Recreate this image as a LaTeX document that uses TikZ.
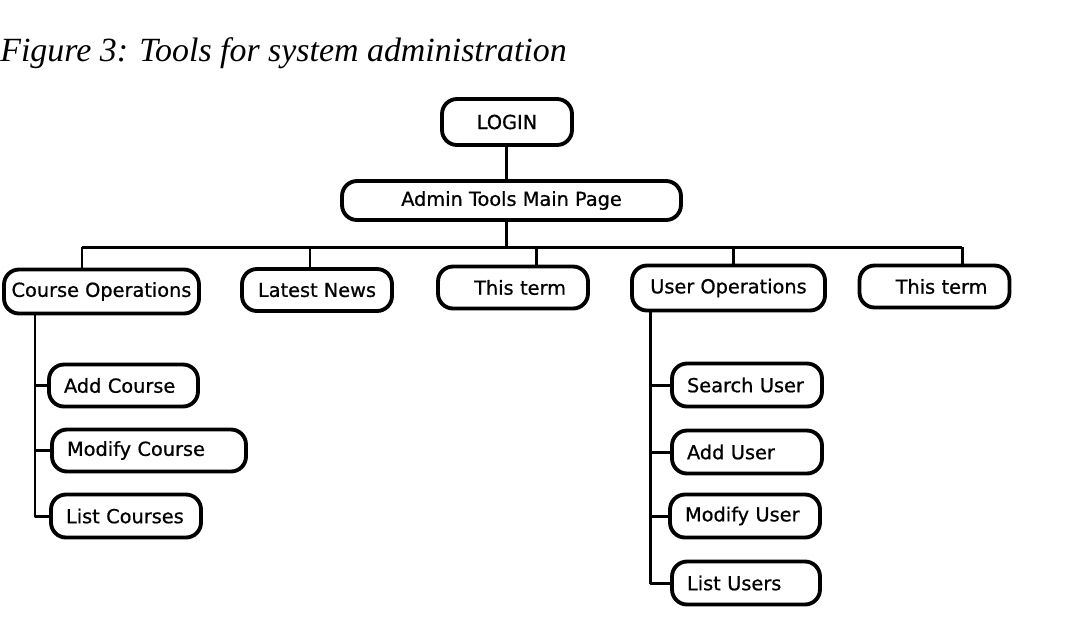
\documentclass[tikz,border=0pt]{standalone}
\usepackage{fontspec}
\setmainfont{Liberation Serif}
\newfontfamily\boxfont[FakeBold=0.8]{DejaVu Sans}
\usepackage{tikz}

\begin{document}
\begin{tikzpicture}
        [x=0.02cm, y=-0.02cm, line join=round,
         box/.style={draw=black, rounded corners=0.3cm, line width=2.2pt, inner sep=0pt,
                     minimum height=0.88cm, font=\boxfont\fontsize{11}{13}\selectfont},
         leftbox/.style={box, align=left, inner xsep=0.3cm, text width=#1},
         termbox/.style={box, align=right, inner xsep=0.44cm, text width=2.12cm},
         link/.style={draw=black, line width=1.7pt}]
        \useasboundingbox (0,0) rectangle (1081,627);

        \node[anchor=west, inner sep=0pt, font=\itshape\fontsize{19.3}{22}\selectfont] (caption) at (0,53) {Figure 3: Tools for system administration};

        \node[box, minimum width=2.6cm, minimum height=0.92cm] (login) at (507,122) {LOGIN};
        \node[box, minimum width=6.78cm, minimum height=0.78cm] (admin) at (511.5,200.5) {Admin Tools Main Page};

        \node[box, minimum width=3.9cm] (course) at (101.5,291.5) {Course Operations};
        \node[box, minimum width=3.0cm, minimum height=0.84cm] (news) at (317,290) {Latest News};
        \node[termbox, minimum height=0.84cm] (term1) at (513,287.5) {This term};
        \node[box, minimum width=3.86cm, minimum height=0.9cm] (users) at (728.5,288) {User Operations};
        \node[termbox, minimum height=0.84cm] (term2) at (934.5,286.5) {This term};

        \node[leftbox=2.38cm, minimum height=0.84cm] (addc) at (123.5,385.5) {Add Course};
        \node[leftbox=3.28cm, minimum height=0.84cm] (modc) at (149,450.5) {Modify Course};
        \node[leftbox=2.40cm, minimum height=0.86cm] (listc) at (126,516) {List Courses};

        \node[leftbox=2.40cm, minimum height=0.86cm] (searchu) at (747,385) {Search User};
        \node[leftbox=2.40cm, minimum height=0.86cm] (addu) at (747,452) {Add User};
        \node[leftbox=2.40cm, minimum height=0.86cm] (modu) at (745,516) {Modify User};
        \node[leftbox=2.36cm, minimum height=0.86cm] (listu) at (746,583) {List Users};

        % branch points
        \coordinate (busmid) at (506,247);
        \coordinate (dcourse) at (82,247);
        \coordinate (dnews) at (310,247);
        \coordinate (dterm1) at (536,247);
        \coordinate (dusers) at (733,247);
        \coordinate (dterm2) at (962,247);
        \coordinate (ctrunk) at (35,315);
        \coordinate (utrunk) at (650,312);

        \path[link] (login.south -| busmid) -- (busmid |- admin.north);
        \path[link] (busmid |- admin.south) -- (busmid);
        \path[link] (dcourse) -- (dterm2);
        \foreach \d/\b in {dcourse/course, dnews/news, dterm1/term1, dusers/users, dterm2/term2}
            \path[link] (\d) -- (\d |- \b.north);

        \path[link] (ctrunk) |- (listc.west);
        \foreach \b in {addc, modc}
            \path[link] (ctrunk |- \b.west) -- (\b.west);

        \path[link] (utrunk) |- (listu.west);
        \foreach \b in {searchu, addu, modu}
            \path[link] (utrunk |- \b.west) -- (\b.west);
    \end{tikzpicture}
\end{document}
